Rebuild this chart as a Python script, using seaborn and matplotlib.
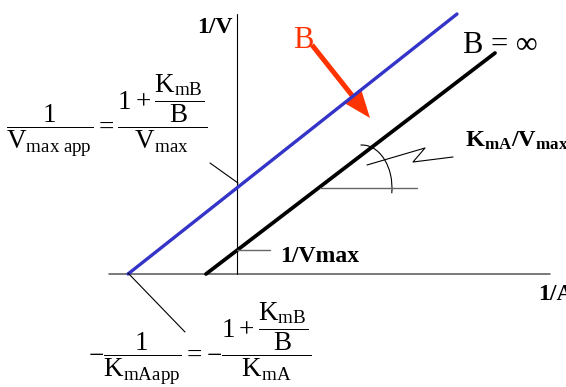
import matplotlib
matplotlib.use('Agg')
import matplotlib.pyplot as plt
import numpy as np
import pandas as pd
import seaborn as sns
from matplotlib.patches import Arc

# Lineweaver-Burk plot, 1/v against 1/[A]
# line at a finite B (apparent constants) and the line at B = infinity
inv_a_blue = [-1.09, 2.20]
inv_v_blue = [0.00, 2.60]
inv_a_black = [-0.31, 2.58]
inv_v_black = [0.00, 2.21]

inv_vmax = 0.24          # y intercept of the B = inf line
x_axis_range = [-1.28, 3.13]
y_axis_range = [0.00, 2.60]

sns.set_style('white')
plt.rcParams['font.family'] = ['Liberation Serif', 'DejaVu Serif']
plt.rcParams['text.color'] = 'black'
plt.rcParams['mathtext.fontset'] = 'custom'
plt.rcParams['mathtext.rm'] = 'Liberation Serif'
plt.rcParams['mathtext.it'] = 'Liberation Serif:italic'
plt.rcParams['mathtext.bf'] = 'Liberation Serif:bold'

fig = plt.figure(figsize=(5.66, 3.87), dpi=100)
ax = fig.add_axes([0, 0, 1, 1])
ax.set_xlim(-2.37, 3.29)
ax.set_ylim(-1.13, 2.74)
ax.axis('off')

# axes of the plot
ax.plot(x_axis_range, [0, 0], color='#555555', lw=1.1)
ax.plot([0, 0], y_axis_range, color='black', lw=0.8)

lines = pd.DataFrame({
    'inv_a': inv_a_blue + inv_a_black,
    'inv_v': inv_v_blue + inv_v_black,
    'B': ['finite'] * 2 + ['inf'] * 2,
})
sns.lineplot(data=lines, x='inv_a', y='inv_v', hue='B', estimator=None,
             palette={'finite': '#3434c8', 'inf': 'black'}, legend=False,
             ax=ax, linewidth=2.4)
ax.lines[-1].set_linewidth(2.7)

# red arrow, B increasing
ax.arrow(0.75, 2.29, 0.58, -0.73, width=0.05, head_width=0.21, head_length=0.27,
         length_includes_head=True, color='#ff3300', lw=0)
ax.text(0.66, 2.26, 'B', color='#ff3300', fontsize=22, ha='center', va='baseline')
ax.text(2.26, 2.21, 'B = \u221e', fontsize=22, ha='left', va='baseline')

# axis titles
ax.text(-0.04, 2.41, '1/V', fontsize=17, fontweight='bold', ha='right', va='baseline')
ax.text(3.01, -0.26, '1/A', fontsize=17, fontweight='bold', ha='left', va='baseline')

# 1/Vmax mark
ax.plot([0, 0.33], [inv_vmax, inv_vmax], color='#666666', lw=1.0)
ax.text(0.43, 0.12, '1/Vmax', fontsize=17, fontweight='bold', ha='left', va='baseline')

# slope mark
ax.plot([0.83, 1.80], [0.86, 0.86], color='#666666', lw=1.0)
ax.add_patch(Arc((1.25, 0.86), 0.60, 0.86, theta1=-10, theta2=92, color='black', lw=0.8))
ax.plot([1.30, 1.88, 1.76, 2.16], [1.09, 1.26, 1.12, 1.17], color='black', lw=0.8)
ax.text(2.28, 1.27, r'$\mathbf{K_{mA}/V_{max}}$', fontsize=17.5, ha='left', va='baseline')

# leader lines to the intercept equations
ax.plot([-1.09, -0.52], [0.01, -0.58], color='black', lw=0.8)
ax.plot([-0.27, 0.01], [1.11, 0.91], color='black', lw=0.8)

eq_vmax = (r'$\dfrac{\mathrm{1}}{\mathrm{V_{max\ app}}}=\dfrac{\mathrm{1+}\dfrac{\mathrm{K_{mB}}}'
           r'{\mathrm{B}}}{\mathrm{V_{max}}}$')
ax.text(-1.30, 1.58, eq_vmax, fontsize=19.5, ha='center', va='center')

eq_km = (r'$-\dfrac{\mathrm{1}}{\mathrm{K_{mAapp}}}=-\dfrac{\mathrm{1+}\dfrac{\mathrm{K_{mB}}}'
         r'{\mathrm{B}}}{\mathrm{K_{mA}}}$')
ax.text(-0.37, -0.70, eq_km, fontsize=19.5, ha='center', va='center')

fig.savefig('out.png', dpi=100)
